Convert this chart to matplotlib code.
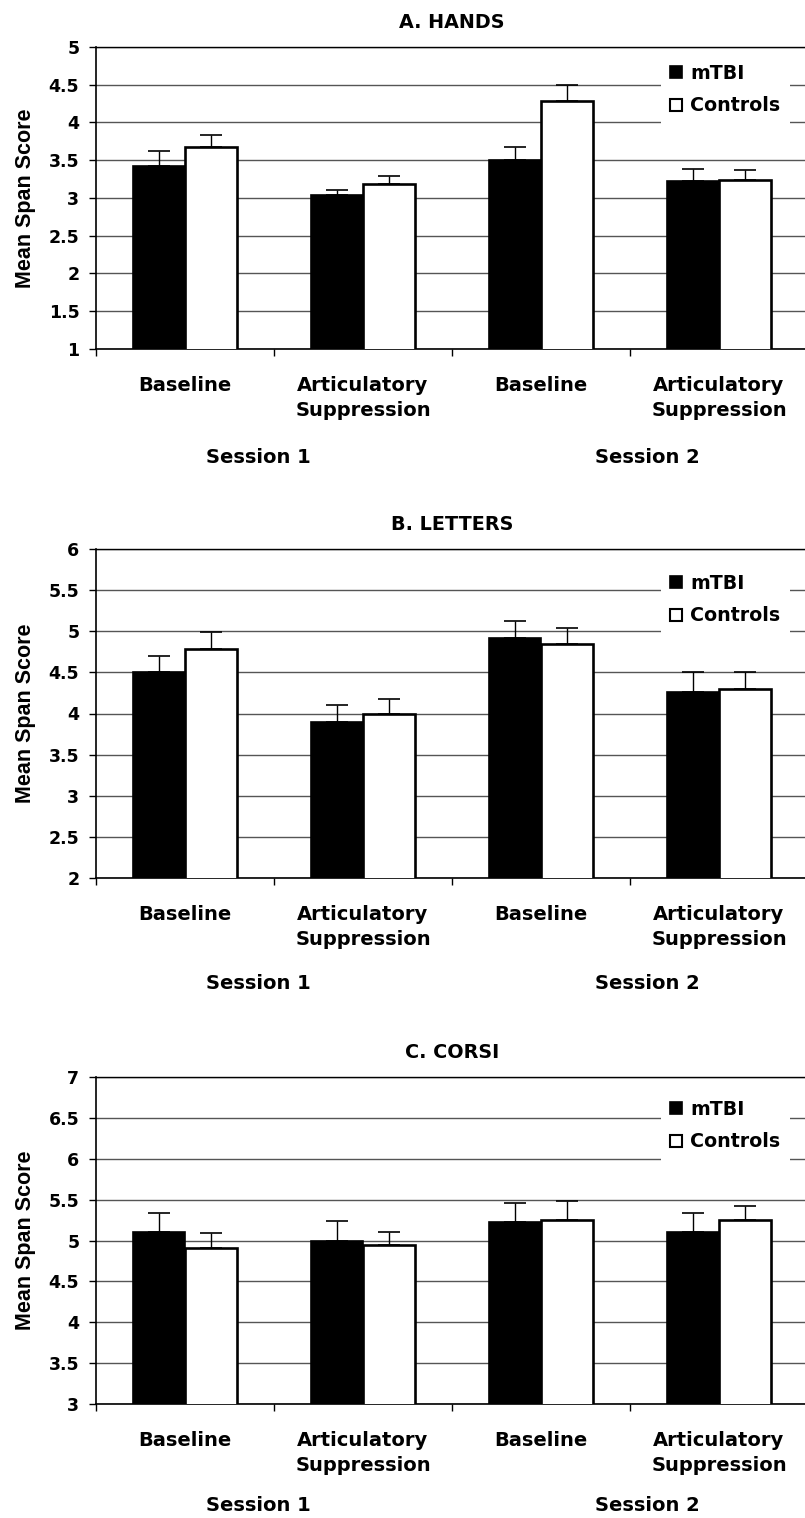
import matplotlib
matplotlib.use("Agg")
import matplotlib.pyplot as plt
from matplotlib.lines import Line2D
from matplotlib.transforms import blended_transform_factory

#conditions along the x axis (two per session)
CONDITIONS = ["Baseline", "Articulatory\nSuppression", "Baseline", "Articulatory\nSuppression"]
SESSIONS = ["Session 1", "Session 2"]
GROUPS = ["mTBI", "Controls"]

#A. hands
HANDS_MTBI = [3.43, 3.04, 3.50, 3.23]
HANDS_MTBI_ERR = [0.19, 0.07, 0.18, 0.15]
HANDS_CTRL = [3.68, 3.18, 4.29, 3.24]
HANDS_CTRL_ERR = [0.16, 0.11, 0.21, 0.13]

#B. letters
LETTERS_MTBI = [4.50, 3.90, 4.92, 4.26]
LETTERS_MTBI_ERR = [0.20, 0.20, 0.21, 0.24]
LETTERS_CTRL = [4.79, 4.00, 4.85, 4.30]
LETTERS_CTRL_ERR = [0.20, 0.18, 0.19, 0.21]

#C. corsi
CORSI_MTBI = [5.11, 5.00, 5.23, 5.11]
CORSI_MTBI_ERR = [0.23, 0.24, 0.23, 0.23]
CORSI_CTRL = [4.91, 4.95, 5.25, 5.25]
CORSI_CTRL_ERR = [0.18, 0.15, 0.23, 0.17]

W, H = 805, 1518
FONT = "DejaVu Sans"
YLABEL_FONT = "Liberation Sans"


def draw_panel(fig, rect_px, title, ylim, mtbi, mtbi_err, ctrl, ctrl_err,
               leg_off, sess_off):
    left, top, right, bottom = rect_px
    ax = fig.add_axes([left / W, 1 - bottom / H, (right - left) / W, (bottom - top) / H])
    hpx = bottom - top

    x = list(range(len(CONDITIONS)))
    bw = 0.29
    xm = [i - bw / 2 for i in x]
    xc = [i + bw / 2 for i in x]

    ax.bar(xm, mtbi, bw, color="black", edgecolor="black",
           linewidth=1.2, zorder=3)
    ax.bar(xc, ctrl, bw, color="white", edgecolor="black",
           linewidth=1.9, zorder=3)
    #only the upper half of the error bar is shown
    ax.errorbar(xm, mtbi, yerr=[[0] * 4, mtbi_err], fmt="none", ecolor="black",
                elinewidth=1.0, capsize=8, capthick=1.2, zorder=2)
    ax.errorbar(xc, ctrl, yerr=[[0] * 4, ctrl_err], fmt="none", ecolor="black",
                elinewidth=1.0, capsize=8, capthick=1.2, zorder=2)

    ax.set_xlim(-0.5, 3.5)
    ax.set_ylim(*ylim)
    lo, hi = ylim
    ticks = [lo + 0.5 * k for k in range(int((hi - lo) / 0.5) + 1)]
    ax.set_yticks(ticks)
    ax.set_yticklabels([f"{t:g}" for t in ticks])
    ax.yaxis.grid(True, color="#555555", linewidth=1.0, zorder=0)
    ax.set_axisbelow(True)

    ax.set_xticks([-0.5, 0.5, 1.5, 2.5])
    ax.set_xticklabels([])
    ax.tick_params(axis="x", direction="out", length=5, width=1)
    ax.tick_params(axis="y", direction="out", length=5, width=1, pad=7,
                   labelsize=12.5)
    for lab in ax.get_yticklabels():
        lab.set_fontweight("bold")
        lab.set_family(FONT)

    for side in ["left", "bottom", "top"]:
        ax.spines[side].set_color("black")
    ax.spines["left"].set_linewidth(1.2)
    ax.spines["bottom"].set_linewidth(1.2)
    ax.spines["top"].set_linewidth(1.0)
    ax.spines["right"].set_visible(False)

    ax.set_title(title, fontsize=13.8, fontweight="bold", family=FONT, pad=14)
    ax.set_ylabel("Mean Span Score", fontsize=15.5, fontweight="bold",
                  family=YLABEL_FONT)
    ax.yaxis.set_label_coords(-60 / (right - left), 0.5)

    trans = blended_transform_factory(ax.transData, ax.transAxes)
    for i, cond in enumerate(CONDITIONS):
        ax.annotate(cond, xy=(i, 0), xycoords=trans, xytext=(0, -19.5),
                    textcoords="offset points", ha="center", va="top",
                    fontsize=14, fontweight="bold", family=FONT, linespacing=1.4)
    for sx, sess in zip([0.41, 2.60], SESSIONS):
        ax.annotate(sess, xy=(sx, 0), xycoords=trans, xytext=(0, sess_off),
                    textcoords="offset points", ha="center", va="top",
                    fontsize=14, fontweight="bold", family=FONT)

    handles = [
        Line2D([], [], linestyle="none", marker="s", markersize=8,
               markerfacecolor="black", markeredgecolor="black", markeredgewidth=1.2),
        Line2D([], [], linestyle="none", marker="s", markersize=8,
               markerfacecolor="white", markeredgecolor="black", markeredgewidth=1.5),
    ]
    leg = ax.legend(handles, GROUPS, loc="upper right",
                    bbox_to_anchor=(0.988, 1 - leg_off / hpx), frameon=True,
                    framealpha=1, edgecolor="none", facecolor="white",
                    fancybox=False, handlelength=0.6, handletextpad=0.45,
                    labelspacing=0.7, borderpad=0.5,
                    prop={"family": FONT, "weight": "bold", "size": 13.7})
    leg.set_zorder(5)
    return ax


fig = plt.figure(figsize=(W / 100, H / 100), dpi=100)

draw_panel(fig, (96, 47, 808, 349), "A. HANDS", (1, 5),
           HANDS_MTBI, HANDS_MTBI_ERR, HANDS_CTRL, HANDS_CTRL_ERR, -2, -71)
draw_panel(fig, (96, 549, 808, 878), "B. LETTERS", (2, 6),
           LETTERS_MTBI, LETTERS_MTBI_ERR, LETTERS_CTRL, LETTERS_CTRL_ERR, 6, -69)
draw_panel(fig, (96, 1077, 808, 1404), "C. CORSI", (3, 7),
           CORSI_MTBI, CORSI_MTBI_ERR, CORSI_CTRL, CORSI_CTRL_ERR, 4, -66)

fig.savefig("out.png", dpi=100)
